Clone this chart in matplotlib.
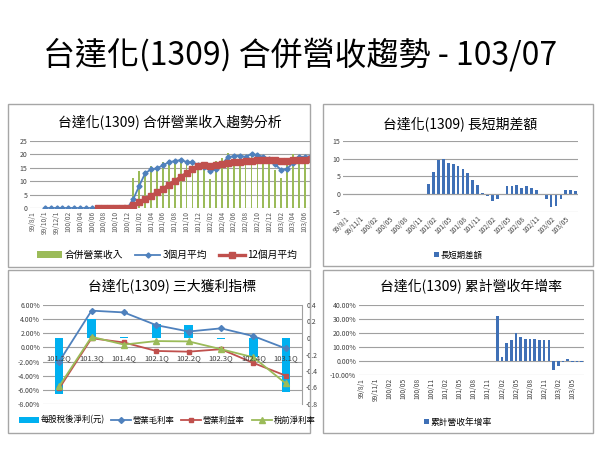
import matplotlib
matplotlib.use('Agg')
import numpy as np
import matplotlib.pyplot as plt
from matplotlib.patches import Rectangle

plt.rcParams['font.family'] = ['Noto Sans CJK TC', 'DejaVu Sans']

W, H = 600, 450

# monthly axis 99/08 .. 103/07 (48 months)
n_months = 48
ticks_2m = ['99/8/1', '99/10/1', '99/12/1', '100/02', '100/04', '100/06', '100/08', '100/10',
            '100/12', '101/02', '101/04', '101/06', '101/08', '101/10', '101/12', '102/02',
            '102/04', '102/06', '102/08', '102/10', '102/12', '103/02', '103/04', '103/06']
ticks_3m = ['99/8/1', '99/11/1', '100/02', '100/05', '100/08', '100/11', '101/02', '101/05',
            '101/08', '101/11', '102/02', '102/05', '102/08', '102/11', '103/02', '103/05']

# 合併營業收入, from 101/01 (month index 17)
rev_start = 17
revenue = [11.3, 13.9, 13.8, 15.5, 15.1, 17.0, 18.0, 17.5, 17.8, 16.5,
           16.7, 15.0, 15.0, 10.9, 17.4, 18.6, 20.6, 18.8, 19.0, 19.4,
           20.0, 19.6, 19.3, 18.2, 14.2, 11.2, 18.0, 20.1, 19.0, 19.4, 19.3]
# 3個月平均, from 99/10 (index 2)
avg3_start = 2
avg3 = [0, 0, 0, 0, 0, 0, 0, 0, 0, 0, 0, 0, 0, 0, 0,
        3.4, 8.3, 13.0, 14.4, 14.8, 15.9, 17.1, 17.5, 17.9, 17.2,
        17.0, 15.9, 15.4, 13.8, 14.5, 16.3, 19.0, 19.3, 19.5, 19.1,
        20.2, 19.7, 19.1, 18.1, 16.3, 14.2, 14.5, 16.9, 19.1, 19.1, 19.3]
# 12個月平均, from 100/07 (index 11)
avg12_start = 11
avg12 = [0, 0, 0, 0, 0, 0,
         1.0, 2.1, 3.3, 4.4, 5.8, 7.1, 8.6, 10.1, 11.5, 12.9,
         14.5, 15.6, 15.9, 15.8, 15.9, 16.6, 16.9, 17.1, 17.2, 17.5,
         17.7, 17.9, 18.0, 18.0, 17.9, 17.7, 17.7, 17.9, 18.0, 18.0, 18.1]

# 長短期差額, from 101/01
diff_start = 17
diff = [2.8, 6.3, 9.6, 9.8, 8.9, 8.6, 7.9, 7.0, 6.0, 4.0,
        2.6, 0.3, -0.4, -1.8, -1.2, -0.3, 2.3, 2.3, 2.5, 1.7,
        2.4, 1.9, 1.3, 0.05, -1.3, -3.6, -3.3, -1.4, 1.3, 1.2, 1.0]

# 累計營收年增率 (%), from 102/01 (index 29)
yoy_start = 29
yoy = [32.4, 3.1, 12.6, 14.8, 19.8, 17.1, 15.5, 15.7, 15.7, 15.2,
       15.0, 15.0, -6.4, -3.3, -0.7, 1.5, -0.6, -0.5, -0.4]

# 三大獲利指標
quarters = ['101.2Q', '101.3Q', '101.4Q', '102.1Q', '102.2Q', '102.3Q', '102.4Q', '103.1Q']
eps = [-0.68, 0.23, 0.01, 0.17, 0.16, -0.01, -0.23, -0.65]
gross_margin = [-2.0, 5.2, 4.95, 3.15, 2.25, 2.7, 1.6, -0.15]
op_margin = [-5.8, 1.3, 0.7, -0.5, -0.6, -0.25, -2.2, -4.0]
pretax_margin = [-5.5, 1.5, 0.4, 0.9, 0.85, -0.25, -1.4, -5.1]

BLUE = '#4F81BD'
RED = '#C0504D'
GREEN = '#9BBB59'
BAR_BLUE = '#3F70B6'
EPS_BLUE = '#00B0F0'
GRID = '#A0A0A0'
TXT = '#404040'


def box(x0, y0, x1, y1):
    return [x0 / W, 1 - y1 / H, (x1 - x0) / W, (y1 - y0) / H]


def frame(fig, x0, y0, x1, y1):
    fig.add_artist(Rectangle((x0 / W, 1 - y1 / H), (x1 - x0) / W, (y1 - y0) / H,
                             transform=fig.transFigure, fill=False, ec='#A6A6A6', lw=1.0))


def style(ax, fs=5):
    for s in ax.spines.values():
        s.set_visible(False)
    ax.set_axisbelow(True)
    ax.yaxis.grid(True, color=GRID, lw=0.8)
    ax.tick_params(axis='both', length=0, labelsize=fs, colors=TXT, pad=2)


fig = plt.figure(figsize=(6, 4.5), dpi=100)
fig.text(0.5, 1 - 55 / H, '台達化(1309) 合併營收趨勢 - 103/07', fontsize=23, ha='center', va='center')

frame(fig, 8, 104, 310, 267)
frame(fig, 323, 104, 593, 266)
frame(fig, 8, 270, 310, 433)
frame(fig, 323, 270, 593, 433)

# ---- panel 1: revenue trend
ax1 = fig.add_axes(box(30, 141, 310, 208))
style(ax1)
x_rev = np.arange(rev_start, rev_start + len(revenue))
b1 = ax1.bar(x_rev, revenue, width=0.3, color=GREEN, label='合併營業收入')
x_a3 = np.arange(avg3_start, avg3_start + len(avg3))
l1, = ax1.plot(x_a3, avg3, color=BLUE, lw=1.3, marker='D', ms=2.6, label='3個月平均')
x_a12 = np.arange(avg12_start, avg12_start + len(avg12))
l2, = ax1.plot(x_a12, avg12, color=RED, lw=2.4, marker='s', ms=4.8, label='12個月平均')
ax1.set_xlim(-0.5, 46.9)
ax1.set_ylim(0, 25)
ax1.set_yticks(range(0, 26, 5))
ax1.set_xticks(range(0, 2 * len(ticks_2m), 2))
ax1.set_xticklabels(ticks_2m, rotation=90, fontsize=4.8, color='#595959')
ax1.set_title('台達化(1309) 合併營業收入趨勢分析', fontsize=10, pad=10)
fig.legend(handles=[b1, l1, l2], loc='center', bbox_to_anchor=(167 / W, 1 - 255 / H), ncol=3,
           frameon=False, fontsize=7, handlelength=2.6, handleheight=0.6, columnspacing=1.2,
           handletextpad=0.3, borderpad=0)

# ---- panel 2: long/short difference
ax2 = fig.add_axes(box(343, 141, 578, 212))
style(ax2)
x_diff = np.arange(diff_start, diff_start + len(diff))
b2 = ax2.bar(x_diff, diff, width=0.55, color=BAR_BLUE, label='長短期差額')
ax2.axhline(0, color=GRID, lw=0.8)
ax2.set_xlim(-0.5, n_months - 0.5)
ax2.set_ylim(-5, 15)
ax2.set_yticks(range(-5, 16, 5))
ax2.set_xticks(range(0, 3 * len(ticks_3m), 3))
ax2.set_xticklabels(ticks_3m, rotation=45, ha='right', rotation_mode='anchor', fontsize=4.8)
ax2.set_title('台達化(1309) 長短期差額', fontsize=10, pad=9)
fig.legend(handles=[b2], loc='center', bbox_to_anchor=(458 / W, 1 - 255 / H), frameon=False,
           fontsize=6, handlelength=0.6, handleheight=0.6, handletextpad=0.2, borderpad=0)

# ---- panel 3: profitability
ax3 = fig.add_axes(box(43, 305, 302, 404))
style(ax3)
ax3.set_ylim(-8, 6)
ax3.set_yticks(range(-8, 7, 2))
ax3.set_yticklabels([f'{v:.2f}%' for v in range(-8, 7, 2)])
ax3.set_xticks([])
xq = np.arange(len(quarters))
ax3.set_xlim(-0.5, len(quarters) - 0.5)
ax3r = ax3.twinx()
for s in ax3r.spines.values():
    s.set_visible(False)
ax3r.spines['right'].set_visible(True)
ax3r.spines['right'].set_color(GRID)
ax3r.spines['right'].set_linewidth(0.8)
b3 = ax3r.bar(xq, eps, width=0.26, color=EPS_BLUE, label='每股稅後淨利(元)')
ax3r.set_ylim(-0.8, 0.4)
ax3r.set_yticks([0.4, 0.2, 0, -0.2, -0.4, -0.6, -0.8])
ax3r.set_yticklabels(['0.4', '0.2', '0', '-0.2', '-0.4', '-0.6', '-0.8'])
ax3r.tick_params(axis='y', length=0, labelsize=5, colors=TXT, pad=3)
ax3l = ax3.twinx()
ax3l.set_ylim(-8, 6)
ax3l.axis('off')
l3, = ax3l.plot(xq, gross_margin, color=BLUE, lw=1.3, marker='D', ms=3, label='營業毛利率')
l4, = ax3l.plot(xq, op_margin, color=RED, lw=1.3, marker='s', ms=3.5, label='營業利益率')
l5, = ax3l.plot(xq, pretax_margin, color=GREEN, lw=1.3, marker='^', ms=4, label='稅前淨利率')
for i, q in enumerate(quarters):
    ax3l.annotate(q, (i, 0), xytext=(0, -5), textcoords='offset points', ha='center', va='top',
                  fontsize=5.5, color=TXT)
ax3.set_title('台達化(1309) 三大獲利指標', fontsize=10, pad=11)
fig.legend(handles=[b3, l3, l4, l5], loc='center', bbox_to_anchor=(167 / W, 1 - 420 / H), ncol=4,
           frameon=False, fontsize=6, handlelength=2.4, handleheight=0.8, columnspacing=0.8,
           handletextpad=0.2, borderpad=0)

# ---- panel 4: cumulative YoY
ax4 = fig.add_axes(box(359, 305, 584, 375))
style(ax4)
x_yoy = np.arange(yoy_start, yoy_start + len(yoy))
b4 = ax4.bar(x_yoy, yoy, width=0.55, color=BAR_BLUE, label='累計營收年增率')
ax4.set_xlim(-0.5, n_months - 0.5)
ax4.set_ylim(-10, 40)
ax4.set_yticks(range(-10, 41, 10))
ax4.set_yticklabels([f'{v:.2f}%' for v in range(-10, 41, 10)])
ax4.set_xticks(range(0, 3 * len(ticks_3m), 3))
ax4.set_xticklabels(ticks_3m, rotation=90, fontsize=4.8)
ax4.set_title('台達化(1309) 累計營收年增率', fontsize=10, pad=10)
fig.legend(handles=[b4], loc='center', bbox_to_anchor=(458 / W, 1 - 422 / H), frameon=False,
           fontsize=6.3, handlelength=0.6, handleheight=0.6, handletextpad=0.2, borderpad=0)

fig.savefig('out.png', dpi=100)
